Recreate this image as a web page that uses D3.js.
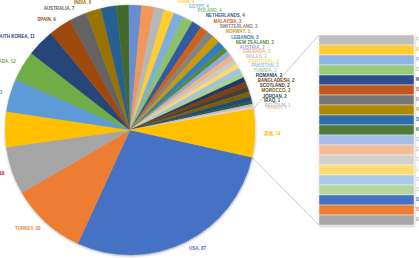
<!DOCTYPE html>
<html>
<head>
<meta charset="utf-8">
<script src="https://cdn.jsdelivr.net/npm/d3@7"></script>
<style>
  html, body { margin: 0; padding: 0; background: #fff; overflow: hidden; }
</style>
</head>
<body>
<div id="chart"></div>
<script>
// dados da pizza (ordem do Excel, sentido horário a partir do "其他")
const paises = ["USA", "TURKEY", "UK", "GERMANY", "CHINA", "CANADA", "SOUTH KOREA", "SPAIN", "AUSTRALIA", "INDIA",
  "ITALY", "BRAZIL", "JAPAN", "GREECE", "SAUDI ARABIA", "IRAN", "EGYPT", "POLAND", "NETHERLANDS", "MALAYSIA",
  "SWITZERLAND", "NORWAY", "LEBANON", "NEW ZEALAND", "AUSTRIA", "GRENADA", "WALES", "PORTUGAL", "PAKISTAN", "TUNISIA",
  "ROMANIA", "BANGLADESH", "SCOTLAND", "MOROCCO", "JORDAN", "IRAQ", "BELGIUM", "SERBIA"];
const valores = [87, 30, 19, 14, 13, 12, 11, 9, 7, 6,
  6, 5, 5, 5, 4, 4, 4, 4, 4, 3,
  3, 3, 3, 2, 2, 2, 2, 2, 2, 2,
  2, 2, 2, 2, 2, 1, 1, 1];

// dados da barra (de cima para baixo)
const outrosNomes = ["FINLAND", "IRELAND", "PERU", "CHILE", "MEXICO", "SWEDEN", "UAE", "VIETNAM", "SINGAPORE", "KUWAIT",
  "CYPRUS", "ESTONIA", "CROATIA", "LATVIA", "COLOMBIA", "CUBA", "DENMARK", "SUDAN", "ECUADOR"];
const outrosValores = [1, 1, 1, 1, 1, 1, 1, 1, 1, 1, 1, 1, 1, 1, 1, 1, 1, 1, 1];
const rotuloOutros = "其他";

const coresPizza = ["#4472C4", "#ED7D31", "#A5A5A5", "#FFC000", "#5B9BD5", "#70AD47", "#264478", "#9E480E", "#636363", "#997300",
  "#255E91", "#43682B", "#698ED0", "#F1975A", "#B7B7B7", "#FFCD33", "#7CAFDD", "#8CC168", "#335AA1", "#D26012",
  "#848484", "#CC9A00", "#327DC2", "#5A8A39", "#8FAADC", "#F4B183", "#C9C9C9", "#FFD966", "#9DC3E6", "#A9D18E",
  "#203864", "#843C0C", "#404040", "#7F6000", "#1F4E79", "#385723", "#A9C0E8", "#F8CBAD"];
const corOutros = "#FFC000";
const coresBarra = ["#BFBFBF", "#FFCD33", "#8DB4E2", "#9BC97A", "#2F4F8F", "#C0571A", "#767676", "#B08800", "#2E6DAA", "#4F7A35",
  "#A4BCE6", "#F5BC98", "#D0D0D0", "#FFDB70", "#ABCBEA", "#B5D69E", "#4472C4", "#ED7D31", "#A5A5A5"];

const largura = 419, altura = 258;
const cx = 130, cy = 130, raio = 125;
const giro = 1.5 * Math.PI / 180; // pequeno giro horário como no Excel
const barra = { x: 319, largura: 95, topo: 35, base: 225 };
const fonte = "'Liberation Sans Narrow', 'Liberation Sans', 'Noto Sans CJK SC', sans-serif";

const svg = d3.select("#chart").append("svg")
  .attr("width", largura).attr("height", altura);

const defs = svg.append("defs");
defs.append("filter").attr("id", "sombra")
  .attr("x", "-10%").attr("y", "-10%").attr("width", "120%").attr("height", "120%")
  .append("feDropShadow")
  .attr("dx", 0.4).attr("dy", 1).attr("stdDeviation", 0.8)
  .attr("flood-color", "#000").attr("flood-opacity", 0.35);

const somaOutros = d3.sum(outrosValores);
const total = d3.sum(valores) + somaOutros;
const meio = somaOutros / total * Math.PI;

const dados = paises.map((p, i) => ({ nome: p, valor: valores[i], cor: coresPizza[i] }));
dados.push({ nome: rotuloOutros, valor: somaOutros, cor: corOutros, outros: true });

const inicio = Math.PI / 2 + meio + giro;
const pie = d3.pie().sort(null).value(d => d.valor)
  .startAngle(inicio)
  .endAngle(inicio + 2 * Math.PI);
const fatias = pie(dados);
const arco = d3.arc().innerRadius(0).outerRadius(raio);

// linhas de ligação pizza -> barra (bordas da fatia "其他")
const fOutros = fatias[fatias.length - 1];
const ponto = a => [cx + raio * Math.sin(a), cy - raio * Math.cos(a)];
const pTopo = ponto(fOutros.startAngle);
const pBase = ponto(fOutros.endAngle);
svg.append("line").attr("x1", pTopo[0]).attr("y1", pTopo[1]).attr("x2", barra.x).attr("y2", barra.topo)
  .attr("stroke", "#A6A6A6").attr("stroke-width", 0.6);
svg.append("line").attr("x1", pBase[0]).attr("y1", pBase[1]).attr("x2", barra.x).attr("y2", barra.base)
  .attr("stroke", "#A6A6A6").attr("stroke-width", 0.6);

svg.append("g")
  .attr("transform", `translate(${cx},${cy})`)
  .attr("filter", "url(#sombra)")
  .selectAll("path")
  .data(fatias)
  .join("path")
  .attr("d", arco)
  .attr("fill", d => d.data.cor)
  .attr("stroke", d => d.data.cor)
  .attr("stroke-width", 0.3);

// rótulos da pizza
const rotulos = fatias.map(d => {
  const a = (d.startAngle + d.endAngle) / 2;
  const an = ((a % (2 * Math.PI)) + 2 * Math.PI) % (2 * Math.PI);
  const direita = !d.data.outros && an < Math.PI / 2;
  const r = direita ? 135 : (d.data.outros ? 134 : 133);
  return {
    texto: `${d.data.nome}, ${d.value}`,
    cor: d.data.nome === "UK" ? "#C00000" : d.data.cor,
    a, r, direita,
    x: cx + r * Math.sin(a),
    y: cy - r * Math.cos(a)
  };
});

// rótulos pequenos do quadrante superior direito: afastar para baixo quando se sobrepõem
const grupoDir = rotulos.filter(l => l.direita).sort((p, q) => p.y - q.y);
let anterior = -Infinity;
grupoDir.forEach(l => {
  if (l.y > -1) {
    l.y = Math.max(l.y, Math.min(anterior + 4.6, l.y + 2));
    anterior = l.y;
  }
  const dy = l.y - cy;
  if (Math.abs(dy) < 137) l.x = cx + Math.sqrt(137 * 137 - dy * dy);
  l.ancora = "start";
});
rotulos.filter(l => !l.direita).forEach(l => {
  const s = Math.sin(l.a);
  l.ancora = s > 0.15 ? "start" : s < -0.15 ? "end" : "middle";
});

svg.append("g").selectAll("text")
  .data(rotulos)
  .join("text")
  .attr("x", d => d.x)
  .attr("y", d => d.y)
  .attr("text-anchor", d => d.ancora)
  .attr("dominant-baseline", "middle")
  .attr("fill", d => d.cor)
  .style("font-family", fonte)
  .style("font-size", "4.5px")
  .style("font-weight", "bold")
  .text(d => d.texto);

// barra de "其他"
const y = d3.scaleLinear().domain([0, somaOutros]).range([barra.topo, barra.base]);
let acumulado = 0;
const segmentos = outrosNomes.map((n, i) => {
  const s = { nome: n, valor: outrosValores[i], y0: acumulado, y1: acumulado + outrosValores[i], cor: coresBarra[i] };
  acumulado += outrosValores[i];
  return s;
});

const gBarra = svg.append("g").attr("filter", "url(#sombra)");
gBarra.selectAll("rect")
  .data(segmentos)
  .join("rect")
  .attr("x", barra.x)
  .attr("y", d => y(d.y0))
  .attr("width", barra.largura)
  .attr("height", d => y(d.y1) - y(d.y0))
  .attr("fill", d => d.cor)
  .attr("stroke", "#fff")
  .attr("stroke-width", 0.4);

svg.append("g").selectAll("text")
  .data(segmentos)
  .join("text")
  .attr("x", barra.x + barra.largura + 2)
  .attr("y", d => (y(d.y0) + y(d.y1)) / 2)
  .attr("dominant-baseline", "middle")
  .attr("fill", d => d.cor)
  .style("font-family", fonte)
  .style("font-size", "4.5px")
  .style("font-weight", "bold")
  .text(d => `${d.nome}, ${d.valor}`);
</script>
</body>
</html>
